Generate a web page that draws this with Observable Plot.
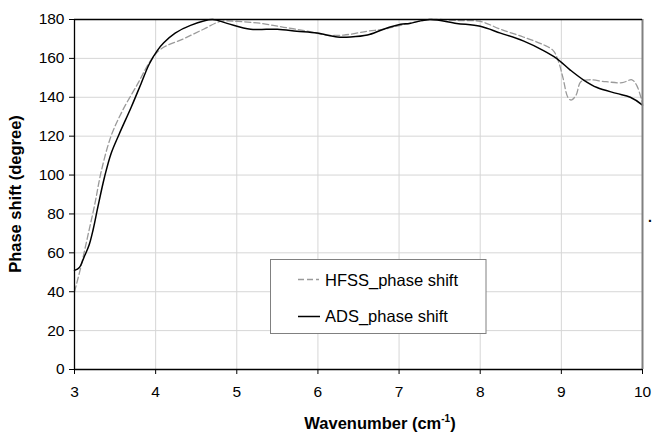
<!DOCTYPE html>
<html>
<head>
<meta charset="utf-8">
<script src="https://cdn.jsdelivr.net/npm/d3@7"></script>
<script src="https://cdn.jsdelivr.net/npm/@observablehq/plot@0.6"></script>
<style>
  html, body { margin: 0; padding: 0; background: #fff; }
  #chart { width: 654px; height: 436px; }
</style>
</head>
<body>
<div id="chart"></div>
<script>
// Series: HFSS_phase shift (dashed gray)
const hfssX = [3.00, 3.08, 3.16, 3.25, 3.33, 3.45, 3.59, 3.78, 3.94, 4.07, 4.34, 4.59, 4.80, 5.01, 5.30, 5.58, 5.87, 6.11, 6.32, 6.61, 6.81, 7.02, 7.38, 7.71, 8.00, 8.25, 8.53, 8.78, 8.90, 8.96, 9.02, 9.08, 9.12, 9.18, 9.24, 9.34, 9.55, 9.75, 9.87, 9.93, 10.00];
const hfssY = [40, 53, 68, 85, 102, 120, 133, 147, 159, 165, 170, 175, 179, 179, 178, 176, 174, 172, 172, 174, 175, 177, 180, 179.5, 179, 175, 171, 167, 164, 159, 150, 140, 138.5, 141, 148, 149, 148, 147.5, 149, 146, 137];

// Series: ADS_phase shift (solid black)
const adsX = [3.00, 3.06, 3.12, 3.18, 3.23, 3.29, 3.37, 3.45, 3.55, 3.70, 3.82, 3.92, 4.02, 4.10, 4.24, 4.43, 4.70, 4.88, 5.17, 5.50, 5.74, 5.99, 6.24, 6.40, 6.61, 6.81, 7.02, 7.13, 7.38, 7.71, 8.00, 8.25, 8.53, 8.78, 8.94, 9.11, 9.27, 9.44, 9.68, 9.85, 10.00];
const adsY = [51, 52.5, 58, 64, 72, 84, 99, 111, 121, 135, 147, 157, 164, 168, 173, 177, 180, 178, 175, 175, 174, 173, 171, 171, 172, 175, 177.5, 178, 180, 178, 176.5, 173, 169, 164, 160, 154, 149, 145, 142, 140, 136];

const xTicks = [3, 4, 5, 6, 7, 8, 9, 10];
const yTicks = [0, 20, 40, 60, 80, 100, 120, 140, 160, 180];
const seriesNames = ["HFSS_phase shift", "ADS_phase shift"];
const xTitle = "Wavenumber (cm";
const xTitleSup = "-1";
const yTitle = "Phase shift (degree)";

const hfss = hfssX.map((x, i) => ({x, y: hfssY[i]}));
const ads = adsX.map((x, i) => ({x, y: adsY[i]}));

const font = "'Liberation Sans', Arial, sans-serif";

const chart = Plot.plot({
  width: 654,
  height: 436,
  marginLeft: 74,
  marginRight: 12,
  marginTop: 19,
  marginBottom: 67,
  style: {fontFamily: font, fontSize: "15.5px", color: "#000", background: "#fff", overflow: "visible"},
  x: {domain: [3, 10], ticks: xTicks, tickFormat: d => String(d), label: null, tickSize: 5, tickPadding: 11},
  y: {domain: [0, 180], ticks: yTicks, tickFormat: d => String(d), label: null, tickSize: 5, tickPadding: 5},
  marks: [
    Plot.gridX(xTicks, {stroke: "#d6d6d6", strokeOpacity: 1, strokeWidth: 1}),
    Plot.gridY(yTicks, {stroke: "#d6d6d6", strokeOpacity: 1, strokeWidth: 1}),
    Plot.line(hfss, {x: "x", y: "y", curve: "catmull-rom", stroke: "#9a9a9a", strokeWidth: 1.3, strokeDasharray: "6,3"}),
    Plot.line(ads, {x: "x", y: "y", curve: "catmull-rom", stroke: "#000", strokeWidth: 1.5}),
    Plot.ruleX([10], {stroke: "#808080", strokeWidth: 2}),
    Plot.ruleY([180], {stroke: "#000", strokeWidth: 1.5}),
    Plot.ruleX([3], {stroke: "#000", strokeWidth: 1.3}),
    Plot.ruleY([0], {stroke: "#000", strokeWidth: 1.5})
  ]
});

document.getElementById("chart").appendChild(chart);

const svg = d3.select(chart);

// Axis titles
const xt = svg.append("text")
  .attr("x", 380).attr("y", 429)
  .attr("text-anchor", "middle")
  .attr("font-family", font).attr("font-size", 16.5).attr("font-weight", "bold")
  .attr("fill", "#000");
xt.append("tspan").text(xTitle);
xt.append("tspan").attr("font-size", 10).attr("dy", -7).text(xTitleSup);
xt.append("tspan").attr("dy", 7).text(")");

svg.append("text")
  .attr("transform", "translate(21,194) rotate(-90)")
  .attr("text-anchor", "middle")
  .attr("font-family", font).attr("font-size", 16.5).attr("font-weight", "bold")
  .attr("fill", "#000")
  .text(yTitle);

// Legend box
const lg = svg.append("g").attr("text-anchor", "start");
lg.append("rect")
  .attr("x", 270.5).attr("y", 259.5).attr("width", 215.5).attr("height", 74)
  .attr("fill", "#fff").attr("stroke", "#808080").attr("stroke-width", 1);
lg.append("line").attr("x1", 298).attr("x2", 319).attr("y1", 279.5).attr("y2", 279.5)
  .attr("stroke", "#9a9a9a").attr("stroke-width", 1.3).attr("stroke-dasharray", "6,3");
lg.append("line").attr("x1", 298).attr("x2", 320).attr("y1", 316.5).attr("y2", 316.5)
  .attr("stroke", "#000").attr("stroke-width", 1.5);
lg.append("text").attr("x", 325).attr("y", 285.5).attr("text-anchor", "start")
  .attr("font-family", font).attr("font-size", 16.5).attr("fill", "#000").text(seriesNames[0]);
lg.append("text").attr("x", 325).attr("y", 322).attr("text-anchor", "start")
  .attr("font-family", font).attr("font-size", 16.5).attr("fill", "#000").text(seriesNames[1]);

// small stray mark at the right edge of the original image
svg.append("text").attr("x", 648).attr("y", 222).attr("text-anchor", "start")
  .attr("font-family", font).attr("font-size", 14).attr("font-weight", "bold").attr("fill", "#000").text(".");
</script>
</body>
</html>
